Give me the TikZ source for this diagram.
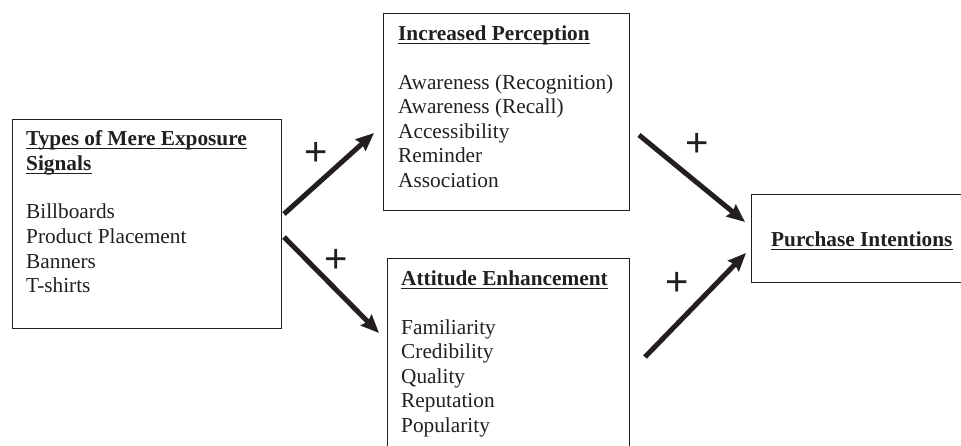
\documentclass[tikz,border=0pt]{standalone}
\usepackage{fontspec}
\setmainfont{Liberation Serif}
\newfontfamily\plusfont{Liberation Sans}
\usetikzlibrary{arrows.meta}
\definecolor{ink}{HTML}{231F20}
\begin{document}
\begin{tikzpicture}[x=1pt,y=-1pt,
  boxst/.style={draw=ink, line width=1.3pt, inner sep=0pt, anchor=north west},
  txt/.style={anchor=base west, inner sep=0pt, text=ink, font=\fontsize{21.3}{24.6}\selectfont},
  ttl/.style={txt, font=\fontsize{21.3}{24.6}\selectfont\bfseries},
  ul/.style={draw=ink, line width=1.6pt},
  plus/.style={anchor=base, inner sep=0pt, text=ink, font=\plusfont\fontsize{40}{40}\selectfont},
  arr/.style={draw=ink, line width=5pt, -{Stealth[length=18pt,width=15pt,inset=2pt]}}]
\useasboundingbox (0,0) rectangle (961,445);
\clip (0,0) rectangle (961,445);
% boxes
\node[boxst, minimum width=269pt, minimum height=209pt] (lb) at (12,119) {};
\node[boxst, minimum width=246pt, minimum height=197pt] (ip) at (383,13) {};
\node[boxst, minimum width=242pt, minimum height=230pt] (ae) at (387,258) {};
\node[boxst, minimum width=230pt, minimum height=88pt] (pi) at (751,194) {};
% left box text
\node[ttl] (lbt1) at (26,145) {Types of Mere Exposure};
\node[ttl] (lbt2) at (26,170) {Signals};
\node[txt] (lb1) at (26,218) {Billboards};
\node[txt] (lb2) at (26,243) {Product Placement};
\node[txt] (lb3) at (26,268) {Banners};
\node[txt] (lb4) at (26,292) {T-shirts};
% increased perception
\node[ttl] (ipt) at (398,40) {Increased Perception};
\node[txt] (ip1) at (398,89) {Awareness (Recognition)};
\node[txt] (ip2) at (398,113) {Awareness (Recall)};
\node[txt] (ip3) at (398,138) {Accessibility};
\node[txt] (ip4) at (398,162) {Reminder};
\node[txt] (ip5) at (398,187) {Association};
% attitude enhancement
\node[ttl] (aet) at (401,285) {Attitude Enhancement};
\node[txt] (ae1) at (401,334) {Familiarity};
\node[txt] (ae2) at (401,358) {Credibility};
\node[txt] (ae3) at (401,383) {Quality};
\node[txt] (ae4) at (401,407) {Reputation};
\node[txt] (ae5) at (401,432) {Popularity};
% purchase intentions
\node[ttl] (pit) at (771,246) {Purchase Intentions};
% underlines
\foreach \t in {lbt1,lbt2,ipt,aet,pit}
  \draw[ul] ([yshift=-3.3pt]\t.base west) -- ([yshift=-3.3pt]\t.base east);
% arrow end points
\coordinate (a1s) at (284,214); \coordinate (a1e) at (374,133);
\coordinate (a2s) at (284,237); \coordinate (a2e) at (379,333);
\coordinate (a3s) at (639,135); \coordinate (a3e) at (745,222);
\coordinate (a4s) at (645,357); \coordinate (a4e) at (746,253);
\draw[arr] (a1s) -- (a1e);
\draw[arr] (a2s) -- (a2e);
\draw[arr] (a3s) -- (a3e);
\draw[arr] (a4s) -- (a4e);
% plus signs
\node[plus] (p1) at (316,165) {+};
\node[plus] (p2) at (336,272) {+};
\node[plus] (p3) at (697,156) {+};
\node[plus] (p4) at (677,295) {+};
\end{tikzpicture}
\end{document}
